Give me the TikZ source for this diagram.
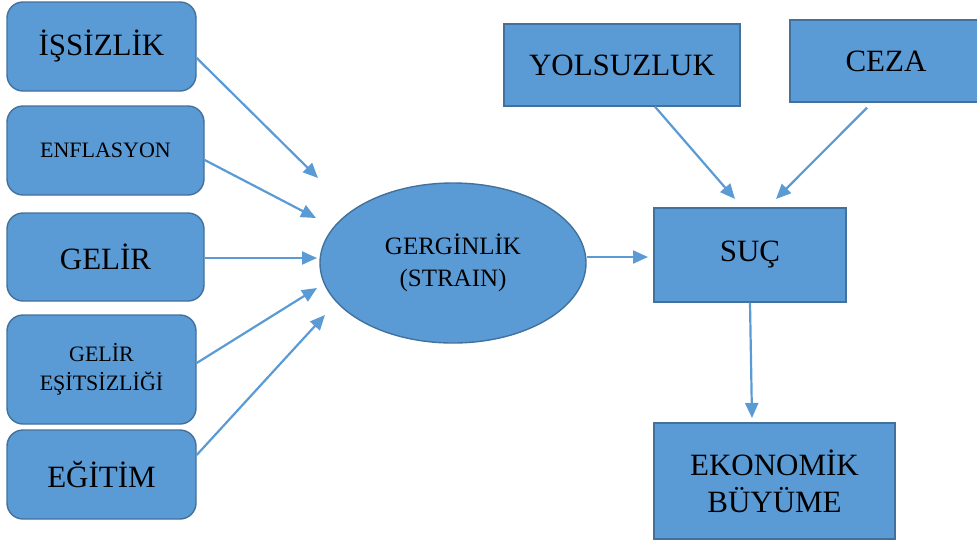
\documentclass[tikz,border=0pt]{standalone}
\usepackage{fontspec}
\setmainfont{Liberation Serif}
\usepackage{tikz}
\usetikzlibrary{arrows.meta}
\usetikzlibrary{shapes.geometric}
\definecolor{kutu}{RGB}{91,155,213}
\definecolor{kenar}{RGB}{65,113,156}

\begin{document}
\begin{tikzpicture}[x=1pt,y=-1pt,
  yuvarlak/.style={draw=kenar, line width=1.4pt, fill=kutu, rounded corners=16pt, inner sep=0pt, align=center},
  kare/.style={draw=kenar, line width=1.4pt, fill=kutu, inner sep=0pt, align=center},
  ok/.style={kutu, line width=2.2pt, -{Triangle[length=15pt,width=13pt]}},
  buyuk/.style={font=\fontsize{31}{37}\selectfont},
  kucuk/.style={font=\fontsize{22}{29}\selectfont}]
\useasboundingbox (0,0) rectangle (977,542);
\clip (0,0) rectangle (977,542);

% sol kutular
\node [yuvarlak, buyuk, minimum width=189pt, minimum height=89pt] (issizlik) at (101.5,46.5) {İŞSİZLİK};
\node [yuvarlak, kucuk, minimum width=197pt, minimum height=89pt] (enflasyon) at (105.5,150.5) {ENFLASYON};
\node [yuvarlak, buyuk, minimum width=197pt, minimum height=88pt] (gelir) at (105.5,257) {GELİR};
\node [yuvarlak, kucuk, minimum width=189pt, minimum height=109pt] (esitsizlik) at (101.5,369.5) {GELİR\\EŞİTSİZLİĞİ};
\node [yuvarlak, buyuk, minimum width=189pt, minimum height=89pt] (egitim) at (101.5,474.5) {EĞİTİM};

% orta
\node [ellipse, draw=kenar, line width=1.4pt, fill=kutu, inner sep=0pt, align=center,
  minimum width=266pt, minimum height=160pt, font=\fontsize{25}{32}\selectfont] (gerginlik) at (453,263) {GERGİNLİK\\(STRAIN)};

% sag kutular
\node [kare, buyuk, minimum width=236pt, minimum height=82pt] (yolsuzluk) at (622,65) {YOLSUZLUK};
\node [kare, minimum width=210pt, minimum height=82pt] (ceza) at (895,61) {};
\node [buyuk] (cezayazi) at (886,61) {CEZA};
\node [kare, buyuk, minimum width=192pt, minimum height=94pt] (suc) at (750,255) {SUÇ};
\node [kare, buyuk, minimum width=241pt, minimum height=116pt] (buyume) at (774.5,481) {EKONOMİK\\BÜYÜME};

% ok uclari
\coordinate (u1) at (318,178);
\coordinate (u2) at (316,218);
\coordinate (u3) at (317,258);
\coordinate (u4) at (317,288);
\coordinate (u5) at (325,315);
\coordinate (u6) at (648,257);
\coordinate (u7) at (735,199);
\coordinate (u8) at (776,199);
\coordinate (u9) at (752,418);

\draw [ok] ([yshift=-11.5pt]issizlik.east) -- (u1);
\draw [ok] ([yshift=-9.5pt]enflasyon.east) -- (u2);
\draw [ok] ([yshift=-1pt]gelir.east) -- (u3);
\draw [ok] ([yshift=6.5pt]esitsizlik.east) -- (u4);
\draw [ok] ([yshift=19.5pt]egitim.east) -- (u5);
\draw [ok] ([yshift=6pt]gerginlik.east) -- (u6);
\draw [ok] ([xshift=33pt]yolsuzluk.south) -- (u7);
\draw [ok] ([xshift=-28pt,yshift=-5pt]ceza.south) -- (u8);
\draw [ok] (suc.south) -- (u9);

\end{tikzpicture}
\end{document}
